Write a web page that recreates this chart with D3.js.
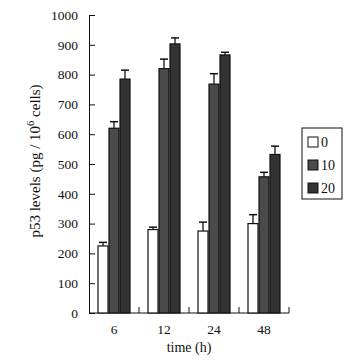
<!DOCTYPE html>
<html>
<head>
<meta charset="utf-8">
<script src="https://cdn.jsdelivr.net/npm/d3@7"></script>
<style>
  body { margin: 0; background: #fff; }
  svg text { font-family: "Liberation Serif", "Times New Roman", serif; fill: #111; }
</style>
</head>
<body>
<div id="chart"></div>
<script>
// Values
var times = ["6", "12", "24", "48"];
var doses = ["0", "10", "20"];
var means = [
    [225, 620, 785],
    [280, 820, 903],
    [275, 768, 866],
    [300, 457, 532]
];
var errors = [
    [12, 22, 30],
    [8, 32, 20],
    [30, 35, 9],
    [30, 15, 28]
];
var yTicks = [0, 100, 200, 300, 400, 500, 600, 700, 800, 900, 1000];

var width = 363, height = 363;
var m = { left: 89, right: 74, top: 15, bottom: 50 };

var colors = { "0": "#ffffff", "10": "#4a4a4a", "20": "#333333" };

var svg = d3.select("#chart").append("svg")
    .attr("width", width)
    .attr("height", height);

var x = d3.scaleBand()
    .domain(times)
    .range([m.left, width - m.right])
    .paddingInner(0)
    .paddingOuter(0);

var xInner = d3.scaleBand()
    .domain(doses)
    .range([0, 33]);

var y = d3.scaleLinear()
    .domain([0, 1000])
    .range([height - m.bottom, m.top]);

// y axis (ticks point inward)
var yAxis = svg.append("g")
    .attr("transform", "translate(" + m.left + ",0)")
    .call(d3.axisLeft(y).tickValues(yTicks).tickFormat(d3.format("d"))
        .tickSizeInner(-6).tickSizeOuter(0).tickPadding(11));
yAxis.selectAll("text").style("font-size", "13.5px");
yAxis.selectAll("path, line").attr("stroke", "#111");

// x axis, ticks at band boundaries
var xAxis = svg.append("g")
    .attr("transform", "translate(0," + y(0) + ")");
xAxis.append("line")
    .attr("x1", m.left).attr("x2", width - m.right)
    .attr("stroke", "#111");
xAxis.selectAll(".tk")
    .data(times)
    .enter().append("line")
    .attr("x1", function(d) { return x(d) + x.bandwidth(); })
    .attr("x2", function(d) { return x(d) + x.bandwidth(); })
    .attr("y1", 0).attr("y2", -6)
    .attr("stroke", "#111");
xAxis.selectAll(".lbl")
    .data(times)
    .enter().append("text")
    .attr("x", function(d) { return x(d) + x.bandwidth() / 2; })
    .attr("y", 21)
    .attr("text-anchor", "middle")
    .style("font-size", "13.5px")
    .text(function(d) { return d; });

// bars
var groups = svg.selectAll(".grp")
    .data(times)
    .enter().append("g")
    .attr("transform", function(d) { return "translate(" + (x(d) + (x.bandwidth() - 33) / 2) + ",0)"; });

groups.each(function(t, ti) {
    var g = d3.select(this);
    doses.forEach(function(dose, di) {
        var v = means[ti][di], e = errors[ti][di];
        var bx = xInner(dose), bw = xInner.bandwidth();
        // error bar (upper only)
        g.append("line")
            .attr("x1", bx + bw / 2).attr("x2", bx + bw / 2)
            .attr("y1", y(v)).attr("y2", y(v + e))
            .attr("stroke", "#111").attr("stroke-width", 1.3);
        g.append("line")
            .attr("x1", bx + bw / 2 - 4).attr("x2", bx + bw / 2 + 4)
            .attr("y1", y(v + e)).attr("y2", y(v + e))
            .attr("stroke", "#111").attr("stroke-width", 1.5);
        g.append("rect")
            .attr("x", bx + 0.5)
            .attr("y", y(v))
            .attr("width", bw - 1)
            .attr("height", y(0) - y(v))
            .attr("fill", colors[dose])
            .attr("stroke", "#111")
            .attr("stroke-width", 1.2);
    });
});

// axis titles
svg.append("text")
    .attr("x", (m.left + width - m.right) / 2)
    .attr("y", 352)
    .attr("text-anchor", "middle")
    .style("font-size", "14px")
    .text("time (h)");

var yl = svg.append("text")
    .attr("transform", "translate(40,161) rotate(-90)")
    .attr("text-anchor", "middle")
    .style("font-size", "15px");
yl.append("tspan").text("p53 levels (pg / 10");
yl.append("tspan").attr("dy", -6).style("font-size", "10.5px").text("6");
yl.append("tspan").attr("dy", 6).text(" cells)");

// legend
var leg = svg.append("g").attr("transform", "translate(302,128)");
leg.append("rect")
    .attr("width", 40).attr("height", 71)
    .attr("fill", "#fff").attr("stroke", "#111");
doses.forEach(function(dose, i) {
    leg.append("rect")
        .attr("x", 6).attr("y", 9 + i * 23)
        .attr("width", 10).attr("height", 10)
        .attr("fill", colors[dose]).attr("stroke", "#111");
    leg.append("text")
        .attr("x", 19).attr("y", 19 + i * 23)
        .style("font-size", "14px")
        .text(dose);
});
</script>
</body>
</html>
